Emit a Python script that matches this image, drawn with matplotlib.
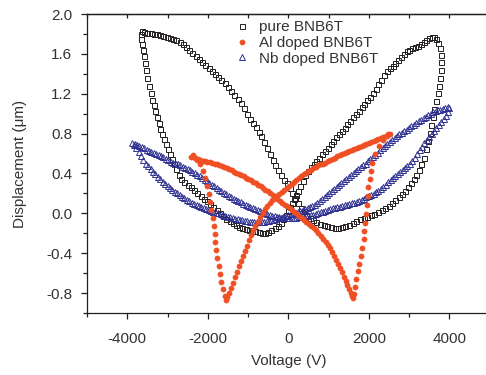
import numpy as np
import matplotlib
matplotlib.use("Agg")
import matplotlib.pyplot as plt
from matplotlib.ticker import MultipleLocator

plt.rcParams['font.family'] = ['Liberation Sans', 'DejaVu Sans']

# -----------------------
# data: (voltage V, displacement um)
# -----------------------
pure_loop = [
    (-3660, 1.80), (-3630, 1.83), (-3580, 1.82), (-3500, 1.81), (-3420, 1.81), (-3340, 1.80), (-3260, 1.80),
    (-3180, 1.79), (-3100, 1.78), (-3020, 1.77), (-2940, 1.76), (-2860, 1.75), (-2780, 1.74), (-2700, 1.72),
    (-2620, 1.70), (-2540, 1.67), (-2460, 1.64), (-2380, 1.61), (-2300, 1.58), (-2220, 1.55), (-2140, 1.52),
    (-2060, 1.49), (-1980, 1.46), (-1900, 1.43), (-1820, 1.40), (-1740, 1.37), (-1660, 1.34), (-1580, 1.31),
    (-1500, 1.27), (-1420, 1.23), (-1340, 1.19), (-1260, 1.15), (-1180, 1.11), (-1100, 1.06), (-1020, 1.00),
    (-950, 0.95), (-880, 0.91), (-810, 0.87), (-740, 0.82), (-670, 0.78), (-600, 0.72), (-530, 0.66),
    (-460, 0.60), (-390, 0.54), (-320, 0.48), (-250, 0.43), (-180, 0.38), (-110, 0.33), (-40, 0.30),
    (30, 0.25), (100, 0.20), (170, 0.15), (240, 0.10), (310, 0.05), (380, 0.02),
    (450, -0.02), (530, -0.05), (610, -0.07),
    (700, -0.09), (790, -0.11), (880, -0.12), (970, -0.13), (1060, -0.14), (1150, -0.15), (1240, -0.15),
    (1330, -0.14), (1420, -0.13), (1510, -0.12), (1600, -0.10), (1690, -0.08), (1780, -0.06), (1870, -0.05),
    (1960, -0.04), (2050, -0.02), (2140, -0.01), (2230, 0.01), (2320, 0.03), (2410, 0.05), (2500, 0.07),
    (2580, 0.10), (2660, 0.13), (2740, 0.16), (2820, 0.19), (2900, 0.22),
    (2970, 0.26), (3040, 0.30), (3110, 0.34), (3180, 0.38), (3240, 0.43), (3300, 0.49), (3360, 0.56),
    (3410, 0.65), (3460, 0.73), (3510, 0.81), (3550, 0.89), (3590, 0.97), (3630, 1.05), (3670, 1.13),
    (3710, 1.21), (3740, 1.28), (3770, 1.36), (3790, 1.44), (3800, 1.52), (3795, 1.59), (3770, 1.66),
    (3730, 1.71), (3680, 1.75),
    (3620, 1.77), (3560, 1.77), (3500, 1.76), (3430, 1.74), (3360, 1.72), (3290, 1.70), (3220, 1.68),
    (3150, 1.67), (3080, 1.66), (3010, 1.64), (2940, 1.63), (2870, 1.60), (2800, 1.57), (2730, 1.54),
    (2660, 1.51), (2590, 1.48), (2520, 1.46), (2450, 1.43), (2380, 1.39), (2310, 1.34), (2240, 1.30),
    (2170, 1.25), (2100, 1.21), (2030, 1.17), (1960, 1.14), (1890, 1.10), (1820, 1.07), (1750, 1.03),
    (1680, 1.00), (1610, 0.97), (1540, 0.93), (1470, 0.90), (1400, 0.86), (1330, 0.83), (1260, 0.80),
    (1190, 0.77), (1120, 0.73), (1050, 0.70), (980, 0.66), (910, 0.63), (840, 0.60), (770, 0.56),
    (700, 0.53), (630, 0.49), (560, 0.46), (490, 0.42), (420, 0.38), (360, 0.32), (300, 0.27),
    (250, 0.22), (200, 0.18), (150, 0.14), (100, 0.10), (50, 0.06), (0, 0.02), (-60, -0.02),
    (-120, -0.06), (-190, -0.10), (-260, -0.13), (-340, -0.15), (-420, -0.17), (-500, -0.19), (-580, -0.20),
    (-660, -0.20), (-740, -0.19), (-820, -0.18), (-900, -0.18), (-980, -0.17), (-1060, -0.16), (-1140, -0.15),
    (-1220, -0.14), (-1300, -0.12), (-1380, -0.10), (-1460, -0.08), (-1540, -0.06), (-1620, -0.03), (-1700, 0.00),
    (-1780, 0.03), (-1860, 0.06), (-1940, 0.09), (-2020, 0.12), (-2100, 0.14), (-2180, 0.17), (-2260, 0.20),
    (-2340, 0.23), (-2420, 0.26), (-2500, 0.28), (-2580, 0.31), (-2660, 0.34), (-2720, 0.38), (-2780, 0.44),
    (-2830, 0.50), (-2880, 0.55), (-2930, 0.60), (-2980, 0.65), (-3030, 0.70), (-3080, 0.75), (-3130, 0.80),
    (-3180, 0.85), (-3220, 0.91), (-3260, 0.97), (-3300, 1.03), (-3340, 1.09), (-3380, 1.14), (-3420, 1.21),
    (-3460, 1.28), (-3500, 1.36), (-3530, 1.44), (-3560, 1.51), (-3590, 1.58), (-3620, 1.64), (-3640, 1.70),
    (-3655, 1.75),
]

al_loop = [
    (-2420, 0.57), (-2370, 0.59), (-2310, 0.56), (-2250, 0.55), (-2190, 0.54), (-2130, 0.53), (-2070, 0.53),
    (-2010, 0.52), (-1950, 0.52), (-1890, 0.51), (-1830, 0.50), (-1770, 0.49), (-1710, 0.48), (-1650, 0.47),
    (-1590, 0.46), (-1530, 0.45), (-1470, 0.44), (-1410, 0.43), (-1350, 0.41), (-1290, 0.40), (-1230, 0.39),
    (-1170, 0.38), (-1110, 0.37), (-1050, 0.35), (-990, 0.34), (-930, 0.33), (-870, 0.31), (-810, 0.30),
    (-750, 0.28), (-690, 0.27), (-630, 0.25), (-570, 0.23), (-510, 0.22), (-450, 0.20), (-390, 0.18),
    (-330, 0.16), (-270, 0.14), (-210, 0.12), (-150, 0.10), (-90, 0.08), (-30, 0.07), (30, 0.05),
    (90, 0.03), (150, 0.01), (210, -0.01), (270, -0.03), (330, -0.05), (390, -0.07), (450, -0.09),
    (510, -0.11), (570, -0.13), (630, -0.15), (690, -0.17), (750, -0.20), (810, -0.23), (870, -0.26),
    (930, -0.29), (980, -0.32), (1030, -0.35), (1080, -0.39), (1130, -0.43), (1180, -0.47), (1230, -0.51),
    (1280, -0.55), (1330, -0.59), (1380, -0.64), (1430, -0.68), (1470, -0.72), (1510, -0.76), (1550, -0.80),
    (1580, -0.83), (1600, -0.85),
    (1620, -0.81), (1650, -0.74), (1690, -0.66), (1730, -0.58), (1760, -0.51), (1800, -0.43), (1840, -0.35),
    (1870, -0.26), (1890, -0.18), (1910, -0.10), (1930, -0.01), (1950, 0.08), (1970, 0.17), (1990, 0.26),
    (2020, 0.34), (2050, 0.42), (2090, 0.51), (2160, 0.60), (2250, 0.68), (2350, 0.74), (2450, 0.78),
    (2520, 0.80),
    (2480, 0.80), (2420, 0.78), (2360, 0.77), (2300, 0.76), (2240, 0.75), (2180, 0.74), (2120, 0.73),
    (2060, 0.72), (2000, 0.71), (1940, 0.70), (1880, 0.69), (1820, 0.68), (1760, 0.67), (1700, 0.66),
    (1640, 0.65), (1580, 0.64), (1520, 0.63), (1460, 0.62), (1400, 0.61), (1340, 0.60), (1280, 0.59),
    (1220, 0.58), (1160, 0.56), (1100, 0.55), (1040, 0.54), (980, 0.53), (920, 0.51), (860, 0.50),
    (800, 0.49), (740, 0.48), (680, 0.46), (620, 0.45), (560, 0.43), (500, 0.42), (440, 0.40),
    (380, 0.39), (320, 0.37), (260, 0.35), (200, 0.33), (140, 0.31), (80, 0.29), (20, 0.27),
    (-40, 0.25), (-100, 0.23), (-160, 0.21), (-220, 0.19), (-280, 0.17), (-340, 0.15), (-400, 0.13),
    (-460, 0.10), (-520, 0.07), (-580, 0.04), (-640, 0.00), (-700, -0.04), (-760, -0.09), (-820, -0.13),
    (-880, -0.17), (-930, -0.22), (-980, -0.27), (-1030, -0.33), (-1080, -0.38), (-1130, -0.43), (-1180, -0.48),
    (-1230, -0.53), (-1280, -0.59), (-1330, -0.64), (-1380, -0.70), (-1430, -0.75), (-1480, -0.80), (-1520, -0.84),
    (-1550, -0.87),
    (-1580, -0.83), (-1620, -0.76), (-1660, -0.69), (-1700, -0.61), (-1730, -0.53), (-1760, -0.45), (-1790, -0.37),
    (-1810, -0.29), (-1830, -0.21), (-1850, -0.13), (-1880, -0.05), (-1910, 0.03), (-1940, 0.11), (-1980, 0.19),
    (-2020, 0.27), (-2070, 0.35), (-2130, 0.42), (-2200, 0.49), (-2280, 0.54), (-2350, 0.57),
]

nb_loop = [
    (-3880, 0.71), (-3820, 0.70), (-3760, 0.69), (-3700, 0.68), (-3640, 0.67), (-3580, 0.66), (-3520, 0.64),
    (-3460, 0.63), (-3400, 0.62), (-3340, 0.61), (-3280, 0.60), (-3220, 0.59), (-3160, 0.58), (-3100, 0.57),
    (-3040, 0.55), (-2980, 0.54), (-2920, 0.52), (-2860, 0.51), (-2800, 0.50), (-2740, 0.49), (-2680, 0.48),
    (-2620, 0.46), (-2560, 0.45), (-2500, 0.44), (-2440, 0.43), (-2380, 0.41), (-2320, 0.40), (-2260, 0.38),
    (-2200, 0.37), (-2140, 0.35), (-2080, 0.33), (-2020, 0.32), (-1960, 0.30), (-1900, 0.28), (-1840, 0.27),
    (-1780, 0.25), (-1720, 0.23), (-1660, 0.22), (-1600, 0.20), (-1540, 0.19), (-1480, 0.17), (-1420, 0.16),
    (-1360, 0.14), (-1300, 0.13), (-1240, 0.12), (-1180, 0.11), (-1120, 0.09), (-1060, 0.08), (-1000, 0.07),
    (-940, 0.06), (-880, 0.05), (-820, 0.04), (-760, 0.03), (-700, 0.02), (-640, 0.01), (-580, 0.00),
    (-520, -0.01), (-460, -0.02), (-400, -0.03), (-340, -0.03), (-280, -0.04), (-220, -0.04), (-160, -0.05),
    (-100, -0.05), (-40, -0.05), (20, -0.05), (80, -0.05), (140, -0.05), (200, -0.05), (260, -0.04),
    (320, -0.04), (380, -0.04), (440, -0.03), (500, -0.03), (560, -0.02),
    (620, -0.02), (680, -0.01), (740, 0.00), (800, 0.01), (860, 0.01), (920, 0.02), (980, 0.03),
    (1040, 0.04), (1100, 0.05), (1160, 0.05), (1220, 0.06), (1280, 0.06), (1340, 0.07), (1400, 0.08),
    (1460, 0.08), (1520, 0.09), (1580, 0.10), (1640, 0.10), (1700, 0.11), (1760, 0.12), (1820, 0.13),
    (1880, 0.14), (1940, 0.16), (2000, 0.17), (2060, 0.18), (2120, 0.19), (2180, 0.21), (2240, 0.22),
    (2300, 0.24), (2360, 0.26), (2420, 0.28), (2480, 0.31), (2540, 0.33), (2600, 0.35), (2660, 0.37),
    (2720, 0.39), (2780, 0.41), (2840, 0.43), (2900, 0.45), (2960, 0.47), (3020, 0.49), (3080, 0.53),
    (3140, 0.56), (3200, 0.60), (3260, 0.64), (3320, 0.67), (3380, 0.71), (3440, 0.74), (3500, 0.77),
    (3560, 0.80), (3620, 0.83), (3680, 0.86), (3740, 0.89), (3800, 0.92), (3860, 0.95), (3920, 0.98),
    (3970, 1.02), (4000, 1.06),
    (3960, 1.07), (3900, 1.06), (3840, 1.05), (3780, 1.04), (3720, 1.04), (3660, 1.03), (3600, 1.02),
    (3540, 1.00), (3480, 0.99), (3420, 0.97), (3360, 0.96), (3300, 0.94), (3240, 0.93), (3180, 0.91),
    (3120, 0.89), (3060, 0.88), (3000, 0.86), (2940, 0.84), (2880, 0.83), (2820, 0.81), (2760, 0.80),
    (2700, 0.78), (2640, 0.76), (2580, 0.74), (2520, 0.72), (2460, 0.70), (2400, 0.68), (2340, 0.66),
    (2280, 0.64), (2220, 0.61), (2160, 0.59), (2100, 0.57), (2040, 0.55), (1980, 0.53), (1920, 0.50),
    (1860, 0.48), (1800, 0.46), (1740, 0.44), (1680, 0.42), (1620, 0.40), (1560, 0.38), (1500, 0.36),
    (1440, 0.34), (1380, 0.32), (1320, 0.30), (1260, 0.28), (1200, 0.26), (1140, 0.24), (1080, 0.22),
    (1020, 0.20), (960, 0.18), (900, 0.16), (840, 0.14), (780, 0.12), (720, 0.10), (660, 0.08),
    (600, 0.07), (540, 0.06), (480, 0.05), (420, 0.04), (360, 0.03), (300, 0.02), (240, 0.01),
    (180, 0.00), (120, -0.01), (60, -0.01), (0, -0.02),
    (-60, -0.03), (-120, -0.04), (-180, -0.05), (-240, -0.05), (-300, -0.06), (-360, -0.07), (-420, -0.07),
    (-480, -0.08), (-540, -0.08), (-600, -0.09), (-660, -0.09), (-720, -0.09), (-780, -0.09), (-840, -0.09),
    (-900, -0.09), (-960, -0.09), (-1020, -0.08), (-1080, -0.08), (-1140, -0.07), (-1200, -0.07), (-1260, -0.06),
    (-1320, -0.06), (-1380, -0.05), (-1440, -0.04), (-1500, -0.04), (-1560, -0.03), (-1620, -0.02), (-1680, -0.01),
    (-1740, 0.00), (-1800, 0.00), (-1860, 0.01), (-1920, 0.02), (-1980, 0.03), (-2040, 0.04), (-2100, 0.05),
    (-2160, 0.06), (-2220, 0.07), (-2280, 0.08), (-2340, 0.09), (-2400, 0.10), (-2460, 0.12), (-2520, 0.13),
    (-2580, 0.15), (-2640, 0.16), (-2700, 0.18), (-2760, 0.20), (-2820, 0.21), (-2880, 0.23), (-2940, 0.25),
    (-3000, 0.27), (-3060, 0.29), (-3120, 0.31), (-3180, 0.34), (-3240, 0.36), (-3300, 0.39), (-3360, 0.41),
    (-3420, 0.44), (-3480, 0.47), (-3540, 0.50), (-3600, 0.54), (-3660, 0.58), (-3720, 0.62), (-3780, 0.66),
    (-3840, 0.69),
]

labels = ["pure BNB6T", "Al doped BNB6T", "Nb doped BNB6T"]

pure = np.array(pure_loop)
al = np.array(al_loop)
nb = np.array(nb_loop)

# -----------------------
# figure
# -----------------------
INK = '#231F20'
fig = plt.figure(figsize=(4.86, 3.75), dpi=100)
ax = fig.add_axes([87 / 486, 1 - 313 / 375, 402.6 / 486, 299 / 375])

h1, = ax.plot(pure[:, 0], pure[:, 1], ls='none', marker='s', ms=3.6, mfc='none',
              mec=INK, mew=0.7, label=labels[0], zorder=2)
h2, = ax.plot(al[:, 0], al[:, 1], ls='none', marker='o', ms=3.8, mfc='#F04E23',
              mec='#F04E23', mew=0.3, label=labels[1], zorder=4)
h3, = ax.plot(nb[:, 0], nb[:, 1], ls='none', marker='^', ms=4.0, mfc='none',
              mec='#2E3192', mew=0.7, label=labels[2], zorder=3)

ax.set_xlim(-5000, 5000)
ax.set_ylim(-1.0, 2.0)
ax.xaxis.set_major_locator(MultipleLocator(2000))
ax.xaxis.set_minor_locator(MultipleLocator(1000))
ax.yaxis.set_major_locator(MultipleLocator(0.4))
ax.yaxis.set_minor_locator(MultipleLocator(0.2))
ax.yaxis.set_major_formatter(plt.FuncFormatter(lambda v, p: f"{v:.1f}"))
ax.xaxis.set_major_formatter(plt.FuncFormatter(lambda v, p: f"{v:.0f}"))

ax.spines['right'].set_visible(False)
for s in ['left', 'bottom', 'top']:
    ax.spines[s].set_linewidth(0.9)
    ax.spines[s].set_color(INK)

ax.tick_params(axis='both', which='major', direction='out', length=4.5, width=0.9,
               colors=INK, labelsize=11, labelcolor='#333333')
ax.tick_params(axis='both', which='minor', direction='out', length=3, width=0.9, colors=INK)
ax.tick_params(axis='x', which='major', pad=9)
ax.tick_params(axis='y', which='major', pad=6)

# top axis ticks pointing inward, no labels
top = ax.secondary_xaxis('top')
top.set_xticks(np.arange(-5000, 5001, 1000))
top.tick_params(direction='in', length=3, width=0.9, colors=INK, labeltop=False)
top.spines['top'].set_linewidth(0.9)

ax.set_xlabel("Voltage (V)", fontsize=11, color='#333333', labelpad=6)
ax.set_ylabel("Displacement (\u03bcm)", fontsize=11, color='#333333', labelpad=14)

ax.legend(handles=[h1, h2, h3], loc='upper left', bbox_to_anchor=(0.362, 0.99),
          frameon=False, fontsize=11, handlelength=0.8, handletextpad=0.7,
          labelspacing=0.12, borderpad=0.2, borderaxespad=0.0, labelcolor='#333333')

plt.savefig("out.png", dpi=100)
